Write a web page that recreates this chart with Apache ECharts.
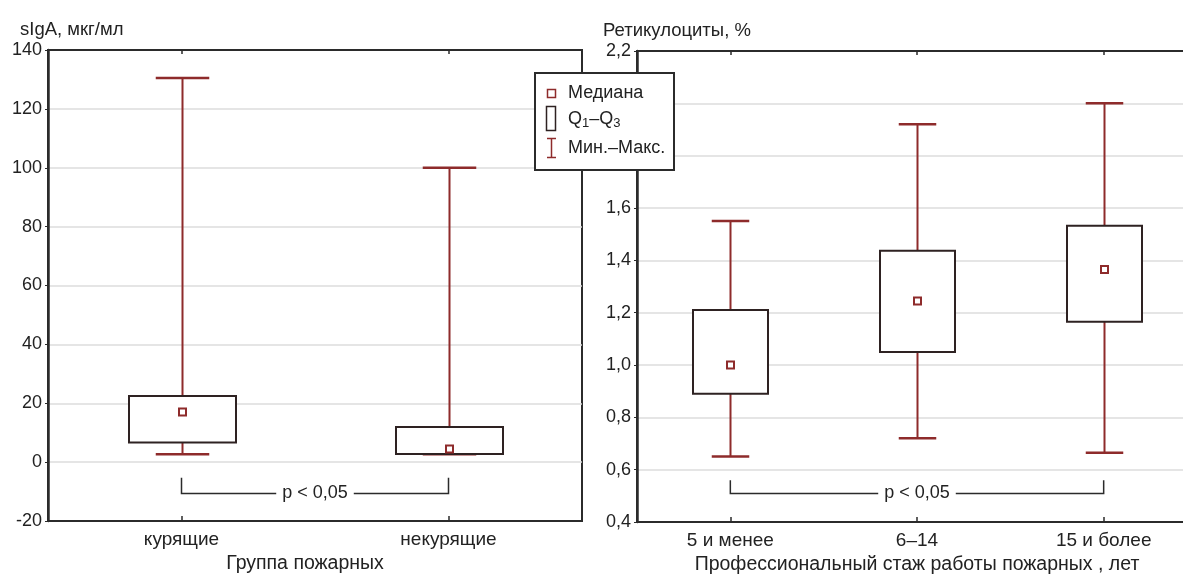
<!DOCTYPE html>
<html>
<head>
<meta charset="utf-8">
<script src="https://cdn.jsdelivr.net/npm/echarts@6/dist/echarts.min.js"></script>
<style>
  html, body { margin: 0; padding: 0; background: #fff; }
  #chart { width: 1183px; height: 575px; }
</style>
</head>
<body>
<div id="chart"></div>
<script>
// sIgA by smoking status
const sigaGroups = ['курящие', 'некурящие'];
const sigaMin    = [2.7, 2.7];
const sigaQ1     = [6.7, 2.8];
const sigaMedian = [17.0, 4.5];
const sigaQ3     = [22.5, 11.9];
const sigaMax    = [130.5, 100];

// Reticulocytes by years of service
const retStages  = ['5 и менее', '6–14', '15 и более'];
const retMin     = [0.65, 0.72, 0.665];
const retQ1      = [0.89, 1.05, 1.165];
const retMedian  = [1.0, 1.245, 1.365];
const retQ3      = [1.21, 1.437, 1.532];
const retMax     = [1.55, 1.92, 2.0];

// Significance brackets: [from category, to category, line level, end tick level]
const sigaBracket = [0, 1, -10.4, -5.3];
const retBracket  = [0, 2, 0.51, 0.56];
const pLabel = 'p < 0,05';

const FONT = '"Liberation Sans", Arial, sans-serif';
const TXT = '#222';
const WHISKER = '#8e2b2b';
const BOX = '#2e2222';
const AXIS = '#2b2b2b';

function boxRows(mins, q1, med, q3, maxs) {
  return mins.map((_, i) => [i, mins[i], q1[i], med[i], q3[i], maxs[i]]);
}

function renderBox(params, api) {
  const idx = api.value(0);
  const pMin = api.coord([idx, api.value(1)]);
  const pQ1 = api.coord([idx, api.value(2)]);
  const pMed = api.coord([idx, api.value(3)]);
  const pQ3 = api.coord([idx, api.value(4)]);
  const pMax = api.coord([idx, api.value(5)]);
  const band = api.size([1, 0])[0];
  const boxW = Math.round(band * 0.4);
  const capW = boxW * 0.5;
  const cx = Math.round(pMed[0]) + 0.5;
  const wStyle = { stroke: WHISKER, lineWidth: 2 };
  return {
    type: 'group',
    children: [
      { type: 'line', shape: { x1: cx, y1: pMax[1], x2: cx, y2: pQ3[1] }, style: wStyle },
      { type: 'line', shape: { x1: cx, y1: pQ1[1], x2: cx, y2: pMin[1] }, style: wStyle },
      { type: 'line', shape: { x1: cx - capW / 2, y1: pMax[1], x2: cx + capW / 2, y2: pMax[1] }, style: { stroke: WHISKER, lineWidth: 2.5 } },
      { type: 'line', shape: { x1: cx - capW / 2, y1: pMin[1], x2: cx + capW / 2, y2: pMin[1] }, style: { stroke: WHISKER, lineWidth: 2.5 } },
      { type: 'rect', shape: { x: cx - boxW / 2, y: pQ3[1], width: boxW, height: pQ1[1] - pQ3[1] },
        style: { fill: '#fff', stroke: BOX, lineWidth: 2 } },
      { type: 'rect', shape: { x: cx - 3.5, y: pMed[1] - 3.5, width: 7, height: 7 },
        style: { fill: '#fff', stroke: WHISKER, lineWidth: 2 } }
    ]
  };
}

function renderBracket(params, api) {
  const a = api.coord([api.value(0), api.value(2)]);
  const b = api.coord([api.value(1), api.value(2)]);
  const aTop = api.coord([api.value(0), api.value(3)]);
  const bTop = api.coord([api.value(1), api.value(3)]);
  const y = Math.round(a[1]) + 0.5;
  return {
    type: 'group',
    children: [
      { type: 'polyline',
        shape: { points: [[a[0], aTop[1]], [a[0], y], [b[0], y], [b[0], bTop[1]]] },
        style: { stroke: AXIS, lineWidth: 1.5, fill: null } },
      { type: 'text',
        style: { x: (a[0] + b[0]) / 2, y: y, text: pLabel, align: 'center', verticalAlign: 'middle',
                 font: '18px ' + FONT, fill: TXT, backgroundColor: '#fff', padding: [2, 6] } }
    ]
  };
}

const gridBox = {
  show: true, borderColor: AXIS, borderWidth: 2, backgroundColor: '#fff',
  containLabel: false, outerBoundsMode: 'none'
};

function yAxisCfg(gridIndex, min, max, interval, fmt) {
  return {
    type: 'value', gridIndex, min, max, interval,
    axisLine: { show: true, lineStyle: { color: AXIS, width: 2.5 } },
    axisTick: { show: true, length: 3, lineStyle: { color: AXIS } },
    axisLabel: { color: TXT, fontFamily: FONT, fontSize: 18, margin: 6, formatter: fmt },
    splitLine: { show: true, lineStyle: { color: '#dcdcdc', width: 1.5 } }
  };
}

function xBottom(gridIndex, cats, name, namePad) {
  return {
    type: 'category', gridIndex, data: cats, position: 'bottom',
    axisLine: { show: true, onZero: false, lineStyle: { color: AXIS, width: 2 } },
    axisTick: { show: true, inside: true, alignWithLabel: true, length: 5, lineStyle: { color: AXIS, width: 1.5 } },
    axisLabel: { color: TXT, fontFamily: FONT, fontSize: 19, margin: 9 },
    name, nameLocation: 'middle', nameGap: 31,
    nameTextStyle: { color: TXT, fontFamily: FONT, fontSize: 19.5, padding: namePad }
  };
}

function xTop(gridIndex, cats) {
  return {
    type: 'category', gridIndex, data: cats, position: 'top',
    axisLine: { show: true, onZero: false, lineStyle: { color: AXIS, width: 2 } },
    axisTick: { show: true, inside: true, alignWithLabel: true, length: 4, lineStyle: { color: AXIS, width: 1.5 } },
    axisLabel: { show: false }
  };
}

const legendZ = 100;

const option = {
  backgroundColor: '#fff',
  animation: false,
  title: [
    { text: 'sIgA, мкг/мл', left: 15, top: 15,
      textStyle: { color: TXT, fontFamily: FONT, fontSize: 18.5, fontWeight: 'normal' } },
    { text: 'Ретикулоциты, %', left: 598, top: 16,
      textStyle: { color: TXT, fontFamily: FONT, fontSize: 18.5, fontWeight: 'normal' } }
  ],
  grid: [
    Object.assign({ left: 48, top: 50, width: 534, height: 471 }, gridBox),
    Object.assign({ left: 637, top: 51, width: 560, height: 471 }, gridBox)
  ],
  xAxis: [
    xBottom(0, sigaGroups, 'Группа пожарных', [0, 20, 0, 0]),
    xBottom(1, retStages, 'Профессиональный стаж работы пожарных , лет', [0, 0, 0, 0]),
    xTop(0, sigaGroups),
    xTop(1, retStages)
  ],
  yAxis: [
    yAxisCfg(0, -20, 140, 20, v => String(v)),
    yAxisCfg(1, 0.4, 2.2, 0.2, v => v.toFixed(1).replace('.', ','))
  ],
  series: [
    { type: 'custom', name: 'sIgA', xAxisIndex: 0, yAxisIndex: 0,
      data: boxRows(sigaMin, sigaQ1, sigaMedian, sigaQ3, sigaMax),
      encode: { x: 0, y: [1, 2, 3, 4, 5] }, renderItem: renderBox, z: 3 },
    { type: 'custom', name: 'Ретикулоциты', xAxisIndex: 1, yAxisIndex: 1,
      data: boxRows(retMin, retQ1, retMedian, retQ3, retMax),
      encode: { x: 0, y: [1, 2, 3, 4, 5] }, renderItem: renderBox, z: 3 },
    { type: 'custom', xAxisIndex: 0, yAxisIndex: 0, data: [sigaBracket],
      encode: { x: [0, 1], y: [2, 3] }, renderItem: renderBracket, z: 3 },
    { type: 'custom', xAxisIndex: 1, yAxisIndex: 1, data: [retBracket],
      encode: { x: [0, 1], y: [2, 3] }, renderItem: renderBracket, z: 3 }
  ],
  graphic: [
    {
      type: 'group', left: 534, top: 72, z: legendZ, zlevel: 1,
      children: [
        { type: 'rect', z: legendZ, shape: { x: 0, y: 0, width: 139, height: 97 },
          style: { fill: '#fff', stroke: AXIS, lineWidth: 2 } },
        // median marker
        { type: 'rect', z: legendZ + 1, shape: { x: 12.5, y: 16.5, width: 8, height: 8 },
          style: { fill: '#fff', stroke: WHISKER, lineWidth: 1.5 } },
        { type: 'text', z: legendZ + 1, style: { x: 33, y: 20.5, text: 'Медиана', font: '18px ' + FONT, fill: TXT, verticalAlign: 'middle' } },
        // interquartile box
        { type: 'rect', z: legendZ + 1, shape: { x: 11.5, y: 33.5, width: 9, height: 24 },
          style: { fill: '#fff', stroke: BOX, lineWidth: 1.5 } },
        { type: 'text', z: legendZ + 1, style: {
            x: 33, y: 46, verticalAlign: 'middle',
            text: 'Q{s|1}–Q{s|3}', font: '18px ' + FONT, fill: TXT,
            rich: { s: { fontSize: 13, fontFamily: FONT, fill: TXT, padding: [8, 0, 0, 0] } } } },
        // min-max whisker
        { type: 'line', z: legendZ + 1, shape: { x1: 16.5, y1: 65.5, x2: 16.5, y2: 84.5 }, style: { stroke: WHISKER, lineWidth: 1.5 } },
        { type: 'line', z: legendZ + 1, shape: { x1: 12, y1: 65.5, x2: 21, y2: 65.5 }, style: { stroke: WHISKER, lineWidth: 1.5 } },
        { type: 'line', z: legendZ + 1, shape: { x1: 12, y1: 84.5, x2: 21, y2: 84.5 }, style: { stroke: WHISKER, lineWidth: 1.5 } },
        { type: 'text', z: legendZ + 1, style: { x: 33, y: 75.5, text: 'Мин.–Макс.', font: '18px ' + FONT, fill: TXT, verticalAlign: 'middle' } }
      ]
    }
  ]
};

const chart = echarts.init(document.getElementById('chart'), null, { renderer: 'canvas' });
chart.setOption(option);
</script>
</body>
</html>
